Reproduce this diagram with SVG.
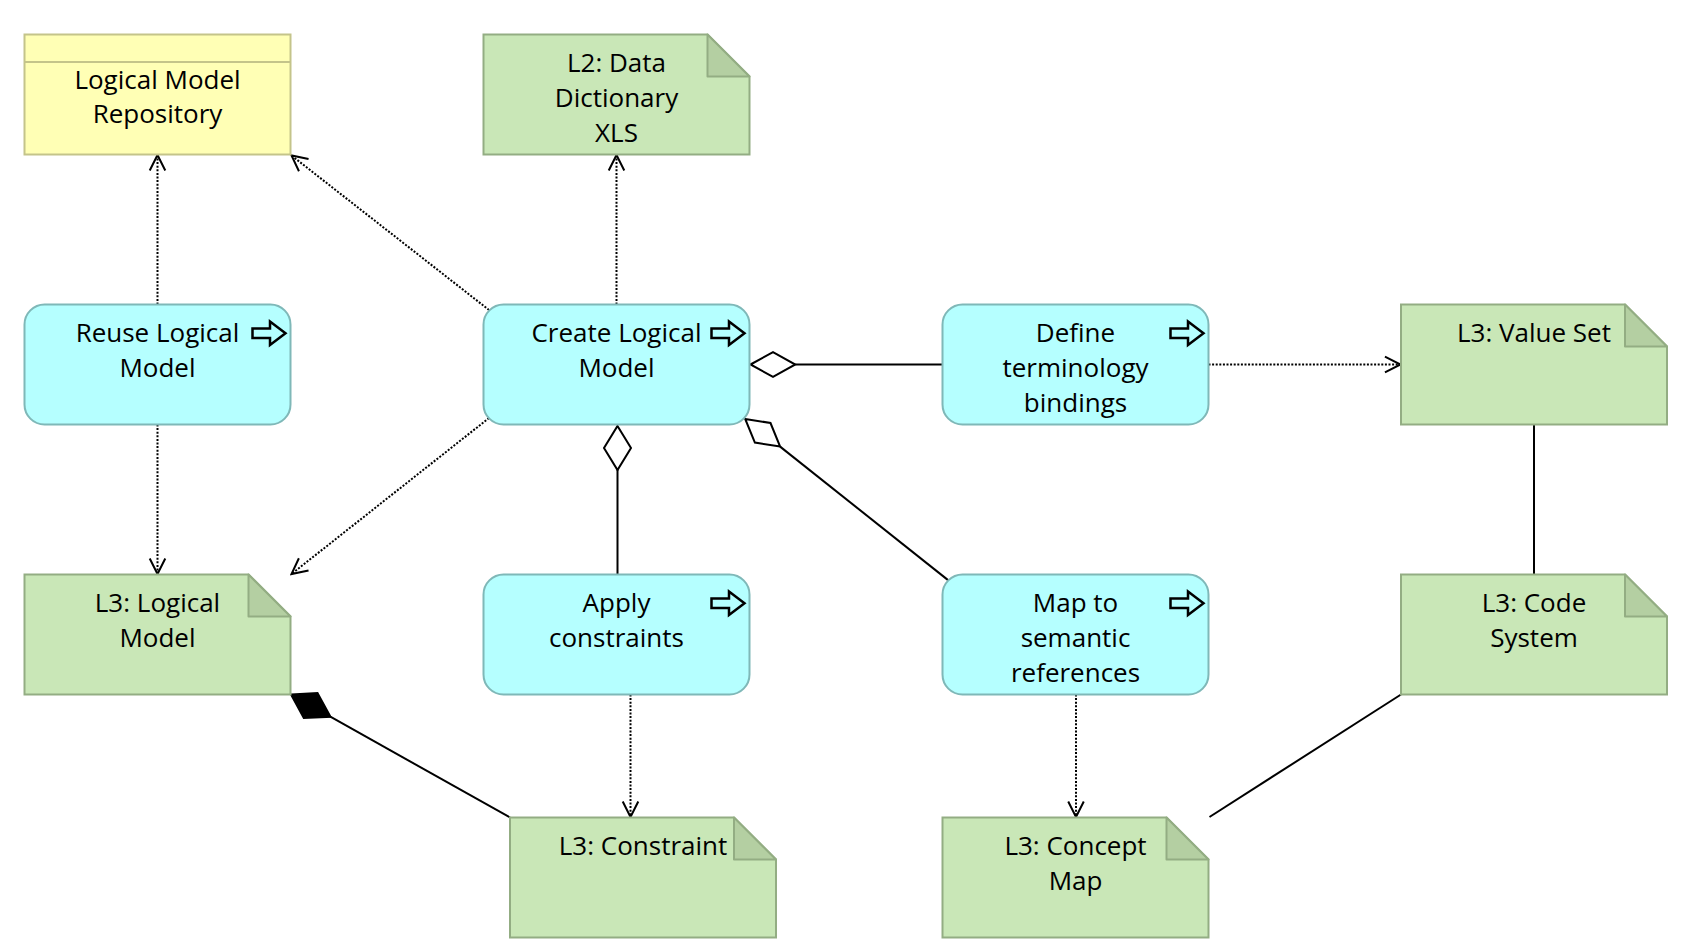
<svg xmlns="http://www.w3.org/2000/svg" width="1687" height="946" viewBox="0 0 1687 946">
<style>
text{font-family:"Open Sans","Noto Sans","Liberation Sans",sans-serif;font-size:26px;fill:#000;text-anchor:middle}
.proc{fill:#b5ffff;stroke:#7fb8b8;stroke-width:2}
.art{fill:#c9e7b7;stroke:#93ad83;stroke-width:2}
.fold{fill:#b4cfa2;stroke:#93ad83;stroke-width:2;stroke-linejoin:round}
.bo{fill:#ffffb5;stroke:#c4c48a;stroke-width:2}
.icon{fill:none;stroke:#000;stroke-width:2.5;stroke-linejoin:miter}
.dot{fill:none;stroke:#000;stroke-width:2;stroke-dasharray:2 1.6}
.sol{fill:none;stroke:#000;stroke-width:2}
.dia{fill:#fff;stroke:#000;stroke-width:2;stroke-linejoin:miter}
.diaf{fill:#000;stroke:#000;stroke-width:2}
</style>
<defs>
<marker id="arr" markerUnits="userSpaceOnUse" markerWidth="20" markerHeight="20" viewBox="-16 -9 18 18" refX="0" refY="0" orient="auto">
<path d="M-14,-7 L0,0 L-14,7" fill="none" stroke="#000" stroke-width="1.8" stroke-dasharray="none"/>
</marker>
</defs>
<g id="connectors">
<path class="dot" d="M157.5,304.5 V155" marker-end="url(#arr)"/>
<path class="dot" d="M489,310 L291.5,155.5" marker-end="url(#arr)"/>
<path class="dot" d="M616.5,304.5 V155" marker-end="url(#arr)"/>
<path class="dot" d="M489,418 L291.5,574" marker-end="url(#arr)"/>
<path class="dot" d="M157.5,424.5 V574" marker-end="url(#arr)"/>
<path class="dot" d="M1208.5,364.5 H1400.5" marker-end="url(#arr)"/>
<path class="dot" d="M630.5,694.5 V817" marker-end="url(#arr)"/>
<path class="dot" d="M1076,694.5 V817" marker-end="url(#arr)"/>
<path class="sol" d="M795.3,364.5 H942.5"/>
<path class="dia" d="M750.5,364.5 L773,352.2 L795.3,364.5 L773,376.8 Z"/>
<path class="sol" d="M617.5,470 V574.5"/>
<path class="dia" d="M617.5,426 L631,448 L617.5,470 L604,448 Z"/>
<path class="sol" d="M780.1,446.6 L948.4,580.4"/>
<path class="dia" d="M745.2,418.9 L770.5,423 L780.1,446.6 L754.9,442.6 Z"/>
<path class="sol" d="M329.9,716.4 L510,817.5"/>
<path class="diaf" d="M291,694.5 L317.5,693 L330.5,716.8 L303.8,718 Z"/>
<path class="sol" d="M1534,424.5 V574.5"/>
<path class="sol" d="M1401,694.5 L1209.5,817"/>
</g>
<g id="repo">
<rect class="bo" x="24.5" y="34.5" width="266" height="120"/>
<line class="bo" x1="24.5" y1="62" x2="290.5" y2="62"/>
<text x="157.5" y="89">Logical Model</text>
<text x="157.5" y="123">Repository</text>
</g>
<g id="datadict">
<path class="art" d="M483.5,34.5 H707.5 L749.5,76.5 V154.5 H483.5 Z"/>
<path class="fold" d="M707.5,34.5 V76.5 H749.5 Z"/>
<text x="616.5" y="72">L2: Data</text>
<text x="616.5" y="107">Dictionary</text>
<text x="616.5" y="142">XLS</text>
</g>
<g id="reuse">
<rect class="proc" x="24.5" y="304.5" width="266" height="120" rx="20"/>
<path class="icon" d="M252.5,328.5 H270 V321.5 L285.5,333.3 L270,345 V338 H252.5 Z"/>
<text x="157.5" y="342">Reuse Logical</text>
<text x="157.5" y="377">Model</text>
</g>
<g id="create">
<rect class="proc" x="483.5" y="304.5" width="266" height="120" rx="20"/>
<path class="icon" d="M711.5,328.5 H729 V321.5 L744.5,333.3 L729,345 V338 H711.5 Z"/>
<text x="616.5" y="342">Create Logical</text>
<text x="616.5" y="377">Model</text>
</g>
<g id="define">
<rect class="proc" x="942.5" y="304.5" width="266" height="120" rx="20"/>
<path class="icon" d="M1170.5,328.5 H1188 V321.5 L1203.5,333.3 L1188,345 V338 H1170.5 Z"/>
<text x="1075.5" y="342">Define</text>
<text x="1075.5" y="377">terminology</text>
<text x="1075.5" y="412">bindings</text>
</g>
<g id="valueset">
<path class="art" d="M1401,304.5 H1625 L1667,346.5 V424.5 H1401 Z"/>
<path class="fold" d="M1625,304.5 V346.5 H1667 Z"/>
<text x="1534" y="342">L3: Value Set</text>
</g>
<g id="logicalmodel">
<path class="art" d="M24.5,574.5 H248.5 L290.5,616.5 V694.5 H24.5 Z"/>
<path class="fold" d="M248.5,574.5 V616.5 H290.5 Z"/>
<text x="157.5" y="612">L3: Logical</text>
<text x="157.5" y="647">Model</text>
</g>
<g id="apply">
<rect class="proc" x="483.5" y="574.5" width="266" height="120" rx="20"/>
<path class="icon" d="M711.5,598.5 H729 V591.5 L744.5,603.3 L729,615 V608 H711.5 Z"/>
<text x="616.5" y="612">Apply</text>
<text x="616.5" y="647">constraints</text>
</g>
<g id="map">
<rect class="proc" x="942.5" y="574.5" width="266" height="120" rx="20"/>
<path class="icon" d="M1170.5,598.5 H1188 V591.5 L1203.5,603.3 L1188,615 V608 H1170.5 Z"/>
<text x="1075.5" y="612">Map to</text>
<text x="1075.5" y="647">semantic</text>
<text x="1075.5" y="682">references</text>
</g>
<g id="codesystem">
<path class="art" d="M1401,574.5 H1625 L1667,616.5 V694.5 H1401 Z"/>
<path class="fold" d="M1625,574.5 V616.5 H1667 Z"/>
<text x="1534" y="612">L3: Code</text>
<text x="1534" y="647">System</text>
</g>
<g id="constraint">
<path class="art" d="M510,817.5 H734 L776,859.5 V937.5 H510 Z"/>
<path class="fold" d="M734,817.5 V859.5 H776 Z"/>
<text x="643" y="855">L3: Constraint</text>
</g>
<g id="conceptmap">
<path class="art" d="M942.5,817.5 H1166.5 L1208.5,859.5 V937.5 H942.5 Z"/>
<path class="fold" d="M1166.5,817.5 V859.5 H1208.5 Z"/>
<text x="1075.5" y="855">L3: Concept</text>
<text x="1075.5" y="890">Map</text>
</g>
</svg>
